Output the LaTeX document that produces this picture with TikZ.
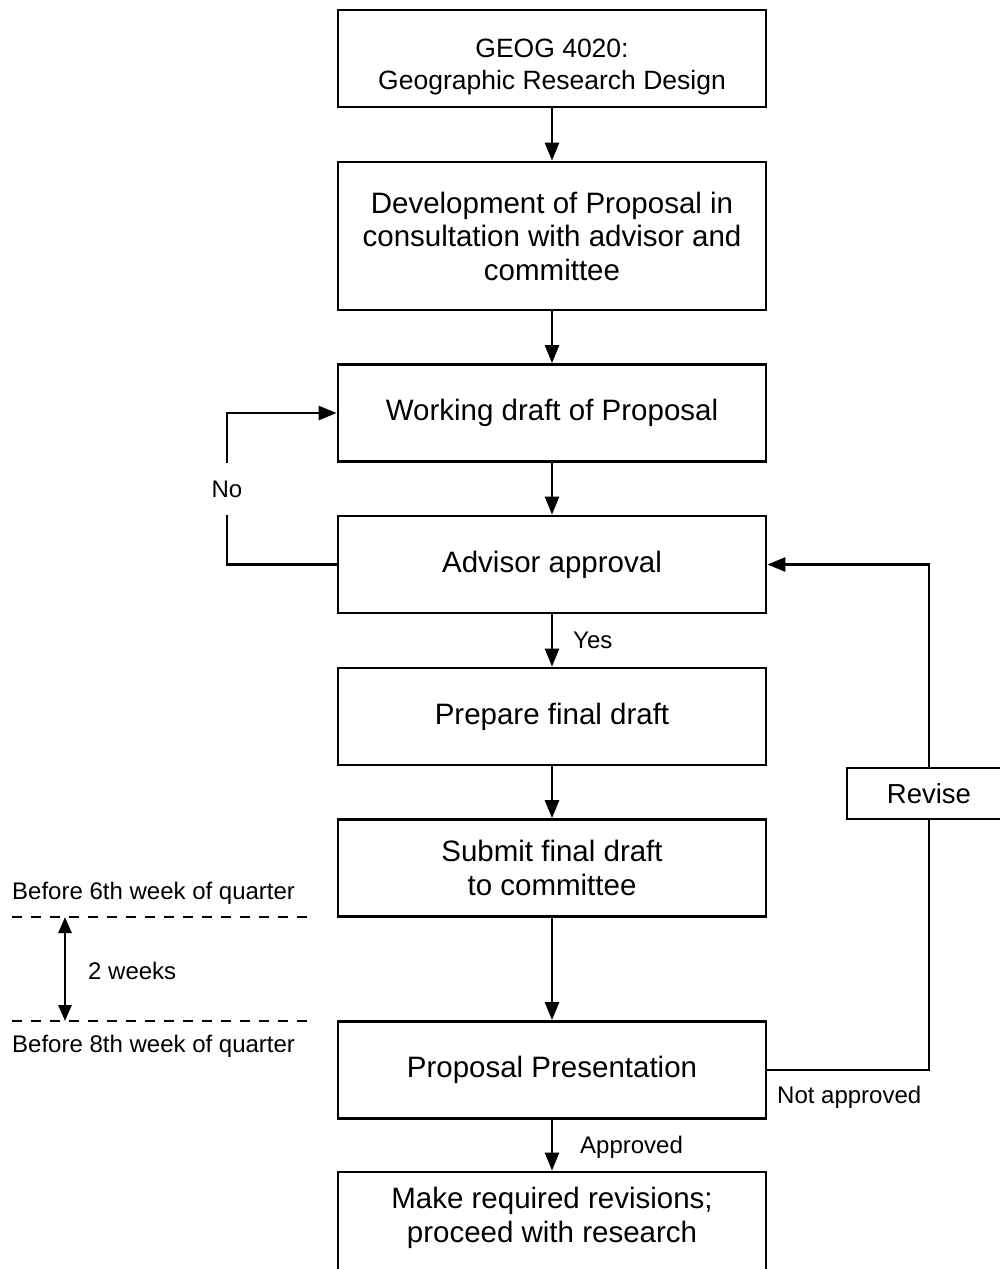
\documentclass[tikz,border=0pt]{standalone}
\usepackage{fontspec}
\setmainfont{Liberation Sans}
\usetikzlibrary{arrows.meta}
\tikzstyle{box}=[draw,line width=2.8pt,minimum width=428pt,minimum height=97pt,align=center,inner sep=0pt,font=\fontsize{29.5}{33.5}\selectfont]
\tikzstyle{lab}=[anchor=west,inner sep=0pt,font=\fontsize{24}{28}\selectfont]
\tikzstyle{link}=[line width=2.8pt]
\tikzstyle{flow}=[link,-{Triangle[length=18pt,width=14pt]}]

\begin{document}
\begin{tikzpicture}[x=1pt,y=-1pt]
        \useasboundingbox (0,0) rectangle (1000,1269);
        \clip (0,0) rectangle (1000,1269);
        \fill [white] (0,0) rectangle (1000,1269);
        % main column
        \node at (552, 58.5) [box,font=\fontsize{26.5}{32}\selectfont] (geog) {\rule{0pt}{36pt}GEOG 4020:\\Geographic Research Design};
        \node at (552, 236) [box,minimum height=148pt] (devel) {Development of Proposal in\\consultation with advisor and\\committee};
        \node at (552, 413) [box] (work) {Working draft of Proposal};
        \node at (552, 564.5) [box] (advisor) {Advisor approval};
        \node at (552, 716.5) [box] (prepare) {Prepare final draft};
        \node at (552, 868) [box] (submit) {Submit final draft\\to committee};
        \node at (552, 1070) [box] (present) {Proposal Presentation};
        \node at (552, 1226) [box,minimum height=108pt] (revisions) {Make required revisions;\\proceed with research\rule[-22pt]{0pt}{22pt}};
        \node at (929, 793.5) [box,minimum width=164pt,minimum height=51pt,font=\fontsize{27.5}{32}\selectfont] (revise) {Revise};
        % labels
        \node at (227, 489) [lab,anchor=center,minimum height=52pt] (no) {No};
        \node at (573, 640) [lab] (yes) {Yes};
        \node at (580, 1147) [lab] (approved) {Approved};
        \node at (777, 1097) [lab] (notappr) {Not approved};
        \node at (12, 893) [lab] (before6) {Before 6th week of quarter};
        \node at (12, 1046) [lab] (before8) {Before 8th week of quarter};
        \node at (88, 971) [lab] (weeks) {2 weeks};
        \coordinate (dash6a) at (12, 917);
        \coordinate (dash6b) at (308, 917);
        \coordinate (dash8a) at (12, 1021);
        \coordinate (dash8b) at (308, 1021);
        \coordinate (week6) at (65, 917);
        \coordinate (week8) at (65, 1021);
        % arrows
        \draw [flow] (geog) -- (devel);
        \draw [flow] (devel) -- (work);
        \draw [flow] (work) -- (advisor);
        \draw [flow] (advisor) -- (prepare);
        \draw [flow] (prepare) -- (submit);
        \draw [flow] (submit) -- (present);
        \draw [flow] (present) -- (revisions);
        \draw [link] (advisor.west) -| (no.south);
        \draw [flow] (no.north) |- (work.west);
        \draw [link] (present.east) -| (revise.south);
        \draw [flow] (revise.north) |- (advisor.east);
        % timing
        \draw [line width=2.2pt,dash pattern=on 10pt off 9pt] (dash6a) -- (dash6b);
        \draw [line width=2.2pt,dash pattern=on 10pt off 9pt] (dash8a) -- (dash8b);
        \draw [link,{Triangle[length=16pt,width=13pt]}-{Triangle[length=16pt,width=13pt]}] (week6) -- (week8);
      \end{tikzpicture}
\end{document}
